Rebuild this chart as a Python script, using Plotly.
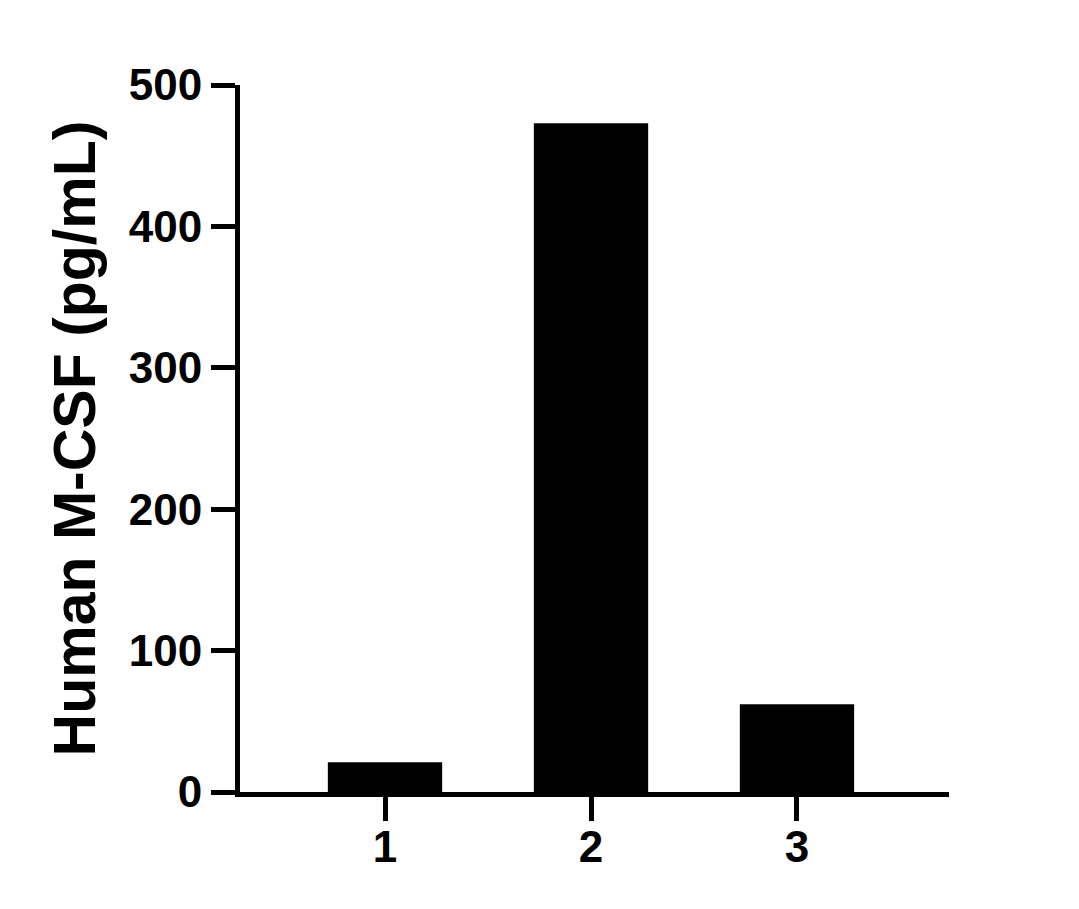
import plotly.graph_objects as go

# sample number on x, concentration on y
samples = [1, 2, 3]
mcsf_pg_ml = [21, 473, 62]
y_ticks = [0, 100, 200, 300, 400, 500]

FONT = 'Arial, Liberation Sans, sans-serif'

fig = go.Figure()
fig.add_trace(go.Bar(
    x=samples,
    y=mcsf_pg_ml,
    width=0.555,
    marker_color='#000000',
    marker_line_width=0,
))

fig.update_layout(
    width=1079, height=909,
    margin=dict(l=232, r=138, t=77, b=125),
    plot_bgcolor='white', paper_bgcolor='white',
    showlegend=False,
    font=dict(family=FONT, color='black', size=44, weight='bold'),
)
fig.update_xaxes(
    range=[0.296, 3.738],
    tickvals=samples,
    ticktext=[str(s) for s in samples],
    showline=True, linecolor='black', linewidth=5,
    ticks='outside', ticklen=24, tickwidth=5, tickcolor='black',
    showgrid=False, zeroline=False,
    ticklabelstandoff=-12,
    tickfont=dict(family=FONT, size=44, weight='bold'),
)
fig.update_yaxes(
    range=[0, 500],
    tickvals=y_ticks,
    showline=True, linecolor='black', linewidth=5,
    ticks='outside', ticklen=24, tickwidth=5, tickcolor='black',
    showgrid=False, zeroline=False,
    tickfont=dict(family=FONT, size=44, weight='bold'),
    title=dict(text='Human M-CSF (pg/mL)', standoff=16,
               font=dict(family=FONT, size=59, weight='bold')),
)

fig.write_html('out.html')
